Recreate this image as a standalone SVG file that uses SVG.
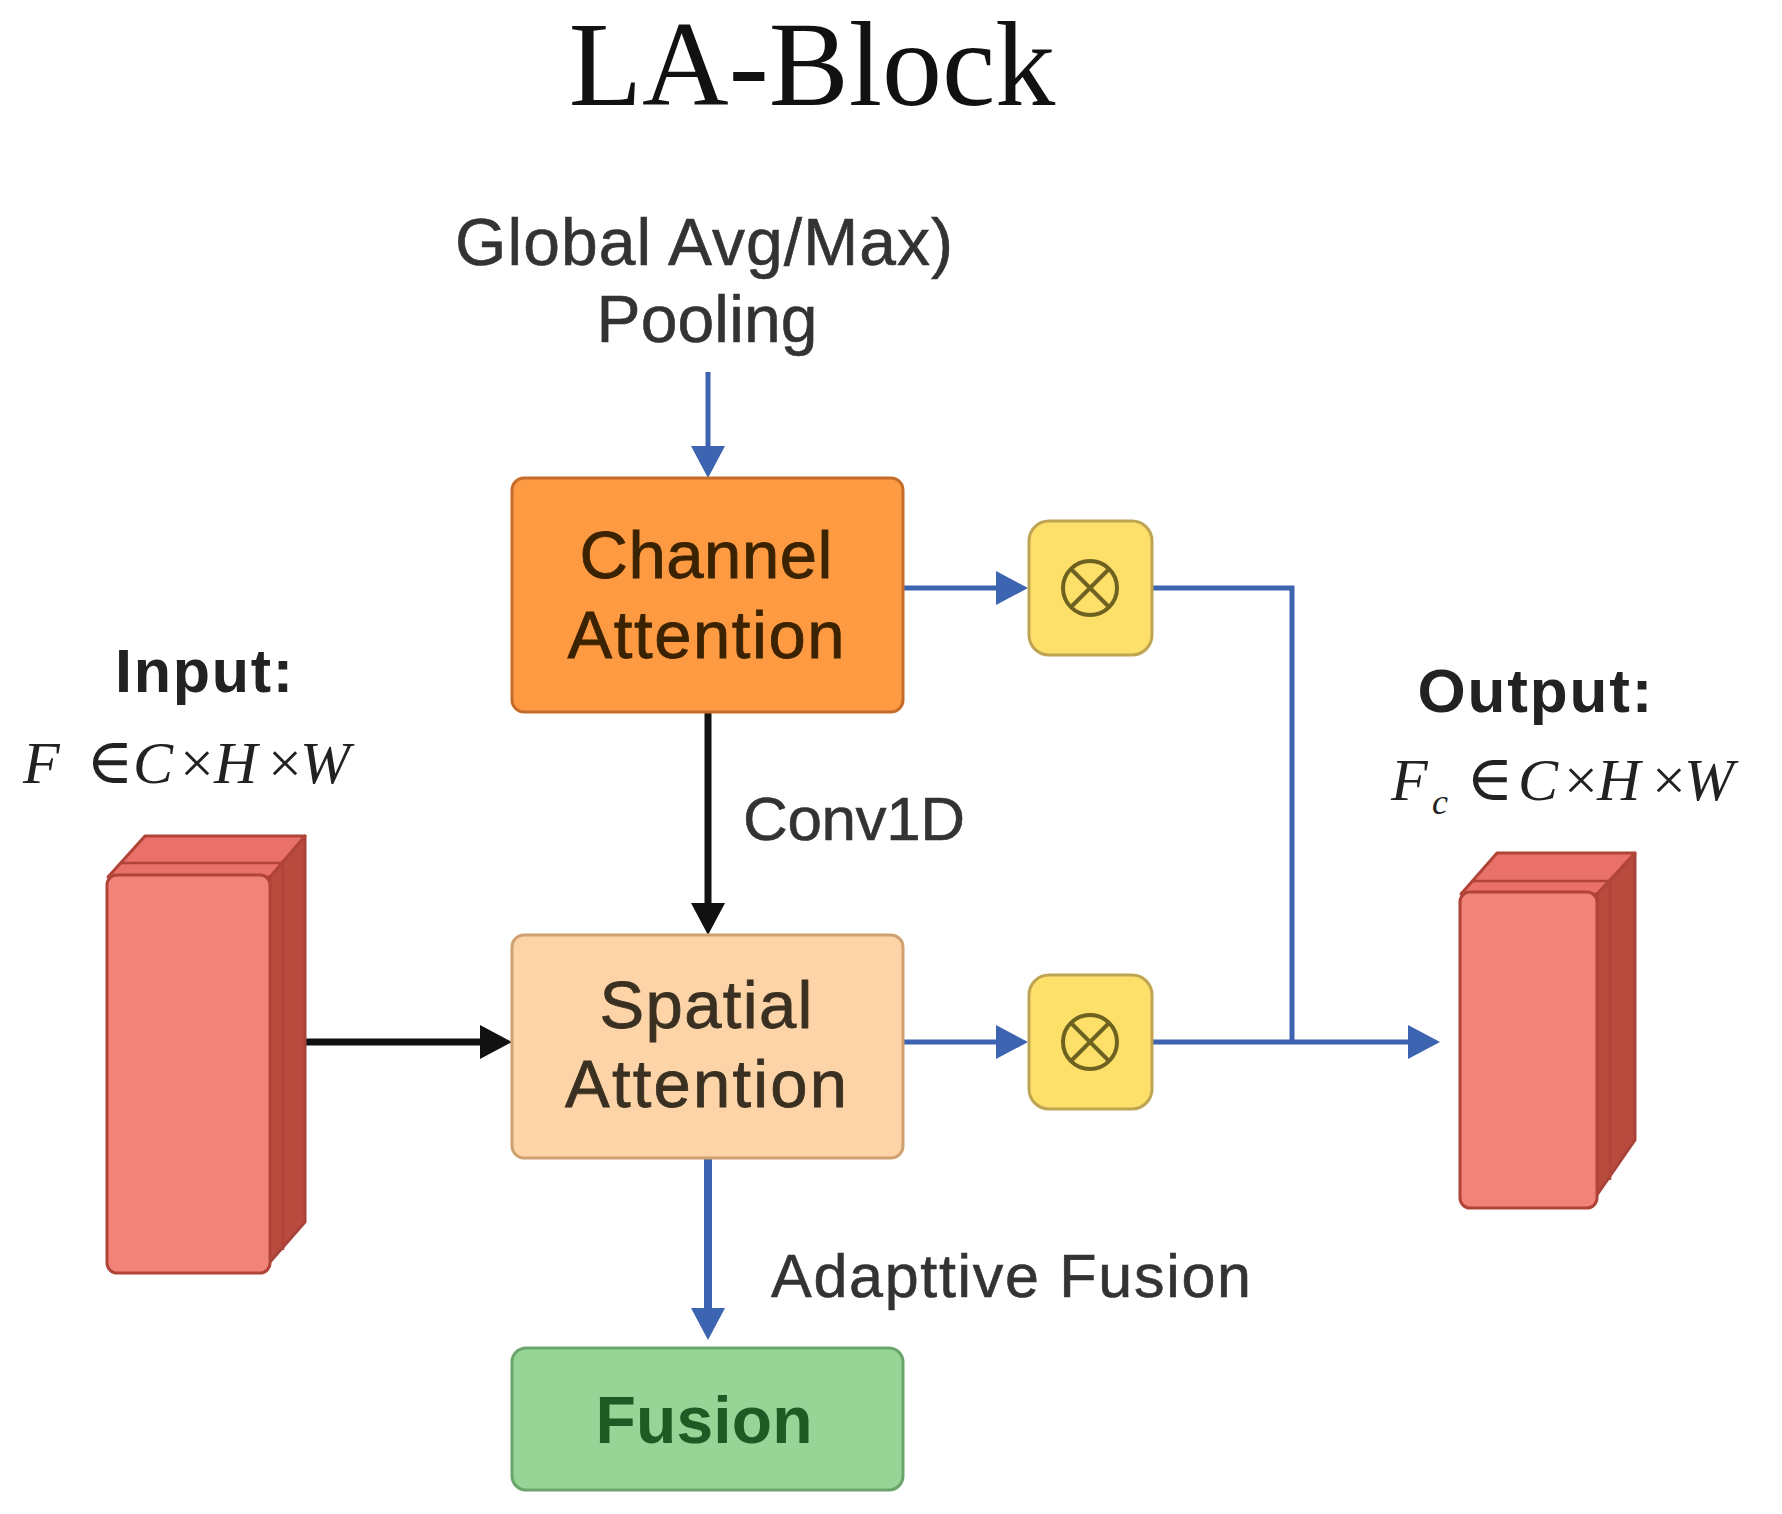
<svg xmlns="http://www.w3.org/2000/svg" width="1782" height="1514" viewBox="0 0 1782 1514">
<style>
.sans{font-family:"Liberation Sans",Arial,sans-serif}
.lbl{font-family:"Liberation Sans",Arial,sans-serif;fill:#333333;stroke:#333333;stroke-width:0.6}
.math{font-family:"Liberation Serif","DejaVu Serif",serif;fill:#222222}
.blue{stroke:#3C64B1;fill:none;stroke-width:5}
.black{stroke:#111111;fill:none;stroke-width:7}
.otbox{fill:#FDE06A;stroke:#BFA553;stroke-width:3}
.otsym{fill:none;stroke:#6E6220;stroke-width:4}
.face{fill:#F2837A;stroke:#B04438;stroke-width:3;stroke-linejoin:round}
.top{fill:#EA706A;stroke:#B04438;stroke-width:3;stroke-linejoin:round}
.side{fill:#B94B3E;stroke:#A8433A;stroke-width:3;stroke-linejoin:round}
.mid{fill:none;stroke:#B04438;stroke-width:2.5}
</style>
<defs>
<marker id="ab" markerUnits="userSpaceOnUse" markerWidth="32" markerHeight="34" refX="0" refY="17" orient="auto" viewBox="0 0 32 34"><path d="M0,0 L32,17 L0,34 z" fill="#3C64B1"/></marker>
<marker id="ak" markerUnits="userSpaceOnUse" markerWidth="32" markerHeight="34" refX="0" refY="17" orient="auto" viewBox="0 0 32 34"><path d="M0,0 L32,17 L0,34 z" fill="#111111"/></marker>
</defs>
<rect x="0" y="0" width="1782" height="1514" fill="#ffffff"/>

<g id="title">
<text x="812" y="105" text-anchor="middle" font-family="'Liberation Serif','Times New Roman',serif" font-size="120" fill="#111111">LA-Block</text>
</g>

<g id="pooling-label">
<text class="lbl" x="704" y="265" text-anchor="middle" font-size="66" textLength="498" lengthAdjust="spacing">Global Avg/Max)</text>
<text class="lbl" x="707" y="342" text-anchor="middle" font-size="66" textLength="221" lengthAdjust="spacing">Pooling</text>
</g>

<g id="connectors">
<line class="blue" x1="708" y1="372" x2="708" y2="446" marker-end="url(#ab)"/>
<line class="blue" x1="903" y1="588" x2="996" y2="588" marker-end="url(#ab)"/>
<path class="blue" d="M1152,588 H1292 V1042"/>
<line class="blue" x1="903" y1="1042" x2="996" y2="1042" marker-end="url(#ab)"/>
<line class="blue" x1="1152" y1="1042" x2="1408" y2="1042" marker-end="url(#ab)"/>
<line class="black" x1="708" y1="712" x2="708" y2="903" marker-end="url(#ak)"/>
<line class="black" x1="305" y1="1042" x2="480" y2="1042" marker-end="url(#ak)"/>
<line class="blue" style="stroke-width:8" x1="708" y1="1158" x2="708" y2="1308" marker-end="url(#ab)"/>
</g>

<g id="channel-attention">
<rect x="512" y="478" width="391" height="234" rx="12" fill="#FD9A42" stroke="#C66C2A" stroke-width="3"/>
<text class="sans" x="706" y="578" text-anchor="middle" font-size="67" fill="#3B2200" stroke="#3B2200" stroke-width="0.8" textLength="253" lengthAdjust="spacing">Channel</text>
<text class="sans" x="706" y="658" text-anchor="middle" font-size="67" fill="#3B2200" stroke="#3B2200" stroke-width="0.8" textLength="277" lengthAdjust="spacing">Attention</text>
</g>

<g id="conv1d-label">
<text class="lbl" x="743" y="840" font-size="62" textLength="222" lengthAdjust="spacing">Conv1D</text>
</g>

<g id="spatial-attention">
<rect x="512" y="935" width="391" height="223" rx="12" fill="#FDD4A7" stroke="#CFA070" stroke-width="3"/>
<text class="sans" x="706" y="1028" text-anchor="middle" font-size="67" fill="#3A3022" stroke="#3A3022" stroke-width="0.8" textLength="213" lengthAdjust="spacing">Spatial</text>
<text class="sans" x="706" y="1107" text-anchor="middle" font-size="67" fill="#3A3022" stroke="#3A3022" stroke-width="0.8" textLength="282" lengthAdjust="spacing">Attention</text>
</g>

<g id="fusion-label">
<text class="lbl" x="771" y="1297" font-size="61" textLength="480" lengthAdjust="spacing">Adapttive Fusion</text>
</g>

<g id="fusion">
<rect x="512" y="1348" width="391" height="142" rx="14" fill="#97D597" stroke="#6BA56B" stroke-width="3"/>
<text class="sans" x="704" y="1443" text-anchor="middle" font-size="66" font-weight="bold" fill="#1E5A23" textLength="217" lengthAdjust="spacing">Fusion</text>
</g>

<g id="mult-top">
<rect class="otbox" x="1029" y="521" width="123" height="134" rx="20"/>
<circle class="otsym" cx="1090" cy="588" r="27"/>
<path class="otsym" d="M1071,569 L1109,607 M1109,569 L1071,607"/>
</g>

<g id="mult-bottom">
<rect class="otbox" x="1029" y="975" width="123" height="134" rx="20"/>
<circle class="otsym" cx="1090" cy="1042" r="27"/>
<path class="otsym" d="M1071,1023 L1109,1061 M1109,1023 L1071,1061"/>
</g>

<g id="input">
<text class="sans" x="204" y="692" text-anchor="middle" font-size="61" font-weight="bold" fill="#222222" textLength="178" lengthAdjust="spacing">Input:</text>
<text class="math" y="783" font-size="60"><tspan x="23" font-style="italic">F</tspan><tspan x="86" font-size="64">∈</tspan><tspan x="133" font-style="italic">C</tspan><tspan x="180">×</tspan><tspan x="214" font-style="italic">H</tspan><tspan x="268">×</tspan><tspan x="300" font-style="italic">W</tspan></text>
<polygon class="side" points="270,877 305,836 305,1222 270,1262"/>
<polygon class="top" points="108,877 145,836 305,836 270,877"/>
<path class="mid" d="M120,863 H283 V1250"/>
<rect class="face" x="107" y="875" width="163" height="398" rx="10"/>
</g>

<g id="output">
<text class="sans" x="1535" y="712" text-anchor="middle" font-size="62" font-weight="bold" fill="#222222" textLength="235" lengthAdjust="spacing">Output:</text>
<text class="math" y="800" font-size="60"><tspan x="1391" font-style="italic">F</tspan><tspan x="1432" y="814" font-size="36" font-style="italic">c</tspan><tspan x="1466" y="800" font-size="64">∈</tspan><tspan x="1518" font-style="italic">C</tspan><tspan x="1564">×</tspan><tspan x="1597" font-style="italic">H</tspan><tspan x="1652">×</tspan><tspan x="1684" font-style="italic">W</tspan></text>
<polygon class="side" points="1597,894 1635,853 1635,1140 1597,1195"/>
<polygon class="top" points="1461,894 1497,853 1635,853 1597,894"/>
<path class="mid" d="M1472,881 H1610 V1180"/>
<rect class="face" x="1460" y="892" width="137" height="316" rx="10"/>
</g>
</svg>
